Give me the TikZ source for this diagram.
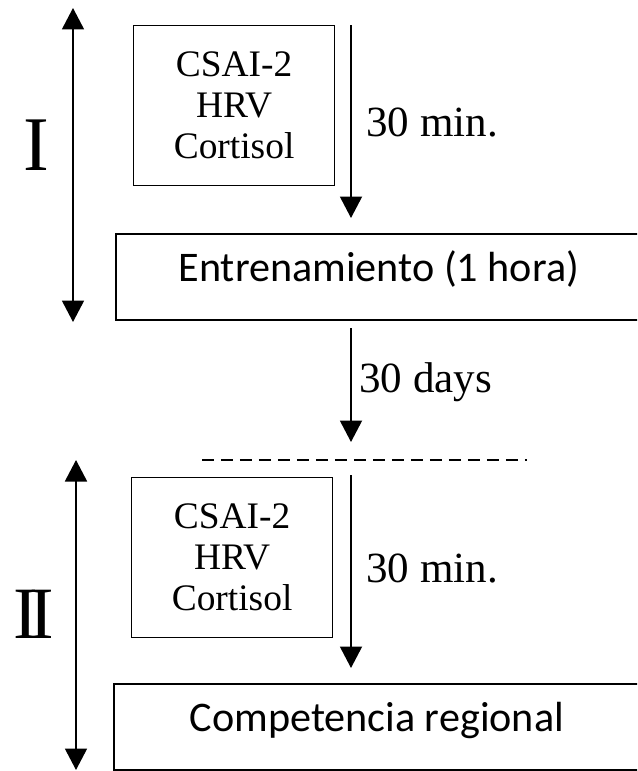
\documentclass[tikz,border=0pt]{standalone}
\usepackage{fontspec}
\setmainfont{Liberation Serif}
\newfontfamily\calibri{Carlito}
\usetikzlibrary{arrows.meta}

\begin{document}
\begin{tikzpicture}[x=0.02cm,y=-0.02cm,
  arr/.style={-{Triangle[width=4.4mm,length=4.3mm]},line width=1.1pt},
  span/.style={{Triangle[width=4.4mm,length=4.3mm]}-{Triangle[width=4.4mm,length=4.3mm]},line width=1.1pt},
  measures/.style={draw,line width=0.7pt,anchor=north west,inner sep=0pt,
    minimum width=4.02cm,minimum height=3.2cm,align=center,
    font=\fontsize{21.3}{23.4}\selectfont},
  % the wide boxes run past the right edge of the page
  stage/.style={draw,line width=1pt,anchor=north west,inner sep=0pt,
    minimum width=11cm,text height=0.95cm,text depth=0.78cm,
    execute at begin node=\hspace*{-0.48cm},
    font=\calibri\fontsize{24}{28}\selectfont},
  lapse/.style={anchor=base west,inner sep=0pt,font=\fontsize{24.5}{28}\selectfont}]
\useasboundingbox (0,0) rectangle (637,771);
\clip (0,0) rectangle (637,771);

% phase I
\node[measures] (measI) at (133,25) {CSAI-2\\HRV\\Cortisol};
\node[stage] (train) at (115,233) {Entrenamiento (1 hora)};
\coordinate (topI) at (73,8);
\coordinate (botI) at (73,322);
\draw[span] (topI) -- (botI);
\node[inner sep=0pt,font=\fontsize{44}{48}\selectfont] (phI) at (36,145) {I};
\coordinate (s1) at (351,25);
\coordinate (e1) at (351,218);
\draw[arr] (s1) -- (e1);
\node[lapse] (minI) at (366,136) {30 min.};

% between phases
\coordinate (s2) at (351,328);
\coordinate (e2) at (351,442);
\draw[arr] (s2) -- (e2);
\node[lapse] (days) at (359,392) {30 days};
\coordinate (dl) at (202,460);
\coordinate (dr) at (527,460);
\draw[line width=1.1pt,dash pattern=on 0.24cm off 0.14cm] (dl) -- (dr);

% phase II
\node[measures] (measII) at (131,477) {CSAI-2\\HRV\\Cortisol};
\node[stage] (comp) at (113,683) {Competencia regional};
\coordinate (topII) at (76,460);
\coordinate (botII) at (76,770);
\draw[span] (topII) -- (botII);
\node[inner sep=0pt,font=\fontsize{42}{46}\selectfont] (phII) at (34,614) {I\kern-0.12em I};
\coordinate (s3) at (351,475);
\coordinate (e3) at (351,668);
\draw[arr] (s3) -- (e3);
\node[lapse] (minII) at (366,582) {30 min.};
\end{tikzpicture}
\end{document}
